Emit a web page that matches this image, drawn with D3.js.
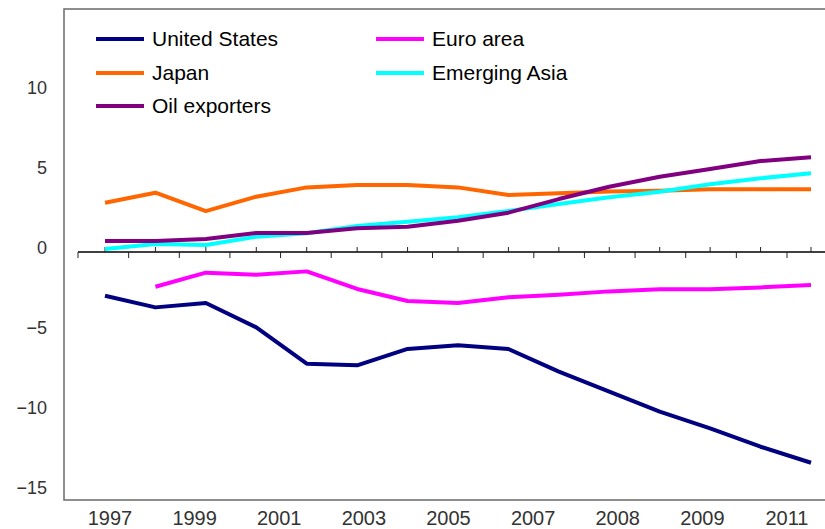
<!DOCTYPE html>
<html>
<head>
<meta charset="utf-8">
<script src="https://cdn.jsdelivr.net/npm/d3@7"></script>
<style>
  html, body { margin: 0; padding: 0; background: #fff; }
  svg { display: block; }
</style>
</head>
<body>
<svg id="chart" width="825" height="529"></svg>
<script>
// ---- data ----
const years = [1997,1998,1999,2000,2001,2002,2003,2004,2005,2006,2007,2008,2009,2010,2011];
const axisLabels = ["1997","1999","2001","2003","2005","2007","2008","2009","2011"];
const yTicks = [10, 5, 0, -5, -10, -15];

const unitedStates = [-2.73,-3.46,-3.19,-4.71,-6.98,-7.08,-6.06,-5.83,-6.06,-7.48,-8.73,-9.98,-11.02,-12.17,-13.17];
const euroArea     = [null,-2.17,-1.29,-1.42,-1.21,-2.31,-3.06,-3.19,-2.83,-2.67,-2.46,-2.33,-2.33,-2.21,-2.06];
const japan        = [3.08,3.71,2.56,3.46,4.04,4.19,4.19,4.04,3.56,3.67,3.79,3.83,3.92,3.92,3.92];
const emergingAsia = [0.19,0.50,0.44,0.96,1.17,1.63,1.89,2.17,2.56,3.00,3.42,3.77,4.23,4.61,4.92];
const oilExporters = [0.69,0.69,0.81,1.19,1.19,1.48,1.58,1.96,2.46,3.31,4.08,4.71,5.19,5.69,5.92];

const seriesNames  = ["United States","Euro area","Japan","Emerging Asia","Oil exporters"];
const seriesValues = [unitedStates, euroArea, japan, emergingAsia, oilExporters];
const seriesColors = ["#000080","#ff00ff","#ff6600","#00ffff","#800080"];

// ---- layout ----
const svg = d3.select("#chart");
const plot = {left: 64, top: 9, bottom: 500, right: 830};

const y = d3.scaleLinear().domain([15.19, -15.5]).range([plot.top, plot.bottom]);
const xData = d3.scalePoint().domain(years).range([105, 811]);
const xBounds = d3.scalePoint().domain(years).range([78, 787]);
const xLabel = d3.scalePoint().domain(axisLabels).range([110, 787]);

// plot border
svg.append("rect")
  .attr("x", plot.left).attr("y", plot.top)
  .attr("width", plot.right - plot.left).attr("height", plot.bottom - plot.top)
  .attr("fill", "none").attr("stroke", "#6a6a6a").attr("stroke-width", 1.5);

// y labels
const numFont = "'Liberation Sans', Arial, sans-serif";
svg.append("g").selectAll("text").data(yTicks).join("text")
  .attr("x", 47).attr("y", d => y(d) - 4)
  .attr("text-anchor", "end").attr("dominant-baseline", "central")
  .attr("font-family", numFont)
  .attr("font-size", 18).attr("fill", "#333")
  .text(d => d < 0 ? "\u2212" + Math.abs(d) : String(d));

// zero axis
const y0 = y(0);
svg.append("line")
  .attr("x1", xBounds(years[0])).attr("x2", 825)
  .attr("y1", y0).attr("y2", y0)
  .attr("stroke", "#000").attr("stroke-width", 1.5);
svg.append("g").selectAll("line").data(years).join("line")
  .attr("x1", d => xBounds(d)).attr("x2", d => xBounds(d))
  .attr("y1", y0).attr("y2", y0 + 6)
  .attr("stroke", "#222").attr("stroke-width", 1);
svg.append("g").selectAll("line").data(years).join("line")
  .attr("x1", d => xData(d)).attr("x2", d => xData(d))
  .attr("y1", y0).attr("y2", y0 - 5)
  .attr("stroke", "#222").attr("stroke-width", 1);

// x labels
svg.append("g").selectAll("text").data(axisLabels).join("text")
  .attr("x", d => xLabel(d)).attr("y", 525)
  .attr("text-anchor", "middle")
  .attr("font-family", numFont)
  .attr("font-size", 20).attr("fill", "#333")
  .text(d => d);

// lines
const line = d3.line()
  .defined(d => d.v !== null)
  .x(d => xData(d.year)).y(d => y(d.v));
seriesValues.forEach((vals, i) => {
  svg.append("path")
    .datum(years.map((yr, j) => ({year: yr, v: vals[j]})))
    .attr("d", line)
    .attr("fill", "none").attr("stroke", seriesColors[i])
    .attr("stroke-width", 4).attr("stroke-linejoin", "round");
});

// legend
const legendPos = [
  {x: 96, y: 39}, {x: 376, y: 39},
  {x: 96, y: 73}, {x: 376, y: 73},
  {x: 96, y: 106}
];
const leg = svg.append("g").selectAll("g").data(seriesNames).join("g")
  .attr("transform", (d, i) => `translate(${legendPos[i].x},${legendPos[i].y})`);
leg.append("line")
  .attr("x1", 0).attr("x2", 48).attr("y1", 0).attr("y2", 0)
  .attr("stroke", (d, i) => seriesColors[i]).attr("stroke-width", 4);
leg.append("text")
  .attr("x", 56).attr("y", 7)
  .attr("font-family", "'Liberation Sans', Arial, sans-serif")
  .attr("font-size", 21).attr("fill", "#000")
  .text(d => d);
</script>
</body>
</html>
